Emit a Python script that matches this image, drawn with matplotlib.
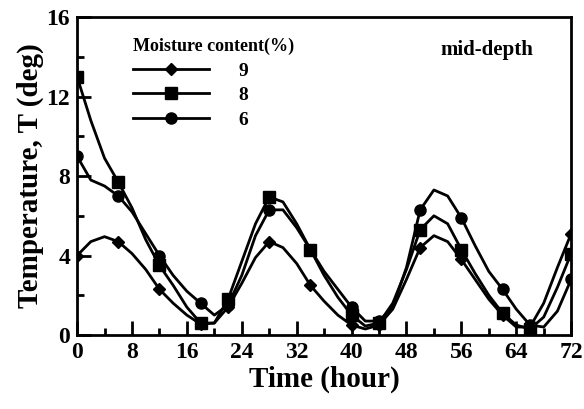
import numpy as np
import matplotlib.pyplot as plt
from matplotlib.ticker import MultipleLocator

plt.rcParams['font.family'] = ['Liberation Serif', 'DejaVu Serif']
plt.rcParams['font.weight'] = 'bold'

# time in hours, every 2 h
t = np.arange(0, 73, 2)

# moisture content 9 %
mc9 = [4.0, 4.7, 4.95, 4.7, 4.1, 3.3, 2.3, 1.6, 1.0, 0.55, 0.6, 1.4, 2.6, 3.9,
       4.7, 4.4, 3.6, 2.5, 1.7, 1.0, 0.5, 0.3, 0.5, 1.3, 2.8, 4.4, 5.0, 4.7,
       3.8, 2.8, 1.8, 1.0, 0.4, 0.4, 1.6, 3.4, 5.1]
# moisture content 8 %
mc8 = [13.0, 10.8, 8.9, 7.7, 6.4, 4.8, 3.5, 2.5, 1.4, 0.6, 0.6, 1.8, 3.7, 5.6,
       6.95, 6.7, 5.6, 4.3, 3.0, 1.9, 1.0, 0.45, 0.6, 1.6, 3.3, 5.3, 6.0, 5.6,
       4.3, 3.1, 2.0, 1.1, 0.5, 0.3, 0.9, 2.4, 4.1]
# moisture content 6 %
mc6 = [9.0, 7.8, 7.5, 7.0, 6.2, 5.1, 4.0, 3.0, 2.2, 1.6, 1.0, 1.5, 3.0, 5.0,
       6.3, 6.3, 5.4, 4.3, 3.2, 2.3, 1.4, 0.7, 0.7, 1.4, 3.4, 6.3, 7.3, 7.0,
       5.9, 4.5, 3.2, 2.3, 1.3, 0.5, 0.4, 1.2, 2.8]

marks = [0, 3, 6, 9, 11, 14, 17, 20, 22, 25, 28, 31, 33, 36]

fig = plt.figure(figsize=(5.84, 4.09), dpi=100)
ax = fig.add_axes([0.132, 0.181, 0.846, 0.777])

ax.plot(t, mc9, color='black', lw=2, marker='D', ms=6, markevery=marks, label='9')
ax.plot(t, mc8, color='black', lw=2, marker='s', ms=9, markevery=marks, label='8')
ax.plot(t, mc6, color='black', lw=2, marker='o', ms=8, markevery=marks, label='6')

ax.set_xlim(0, 72)
ax.set_ylim(0, 16)
ax.xaxis.set_major_locator(MultipleLocator(8))
ax.xaxis.set_minor_locator(MultipleLocator(4))
ax.yaxis.set_major_locator(MultipleLocator(4))
ax.yaxis.set_minor_locator(MultipleLocator(2))
ax.tick_params(which='both', direction='in', width=2, labelsize=17, pad=5)
ax.tick_params(which='major', length=10)
ax.tick_params(which='minor', length=5)
for s in ax.spines.values():
    s.set_linewidth(2)

ax.set_xlabel('Time (hour)', fontsize=21, fontweight='bold', labelpad=2)
ax.set_ylabel('Temperature, T (deg)', fontsize=21, fontweight='bold', labelpad=2)

leg = ax.legend(title='Moisture content(%)', loc='upper left', bbox_to_anchor=(0.094, 0.965),
                frameon=False, fontsize=14, title_fontsize=13, handlelength=3.9,
                labelspacing=0.35, borderpad=0, handletextpad=1.5)
leg._legend_box.align = 'left'
leg.get_title().set_fontweight('bold')

ax.text(0.735, 0.88, 'mid-depth', transform=ax.transAxes, fontsize=15, fontweight='bold')

fig.savefig('out.png')
